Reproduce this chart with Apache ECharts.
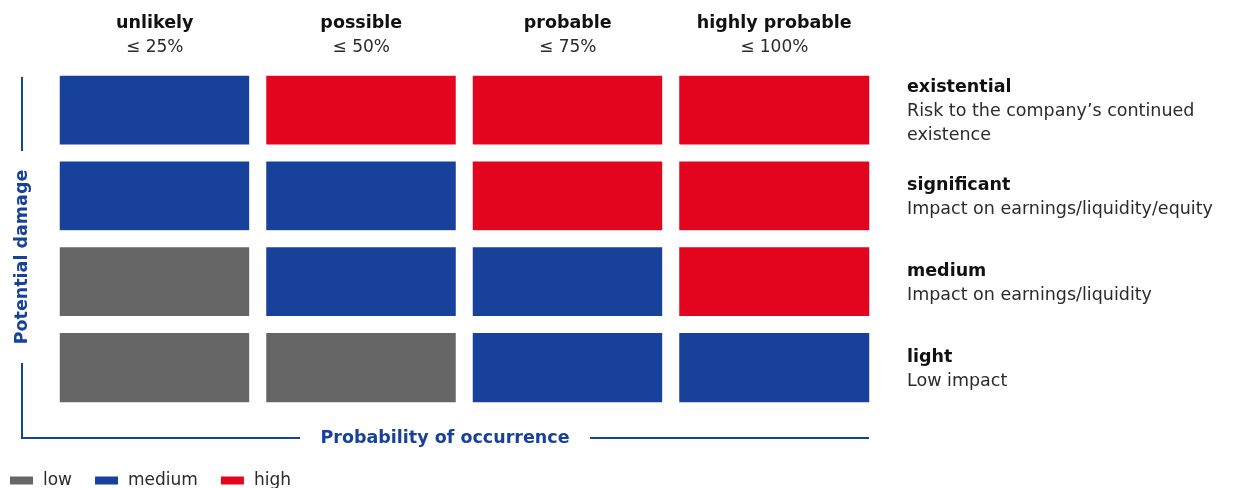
<!DOCTYPE html>
<html>
<head>
<meta charset="utf-8">
<script src="https://cdn.jsdelivr.net/npm/echarts@6/dist/echarts.min.js"></script>
<style>
html,body{margin:0;padding:0;background:#fff;}
#chart{width:1240px;height:488px;}
</style>
</head>
<body>
<div id="chart"></div>
<script>
const columns = ['unlikely', 'possible', 'probable', 'highly probable'];
const columnRanges = ['≤ 25%', '≤ 50%', '≤ 75%', '≤ 100%'];
const damageLevels = ['existential', 'significant', 'medium', 'light'];
const damageDescriptions = [
  'Risk to the company’s continued\nexistence',
  'Impact on earnings/liquidity/equity',
  'Impact on earnings/liquidity',
  'Low impact'
];
const riskLevels = ['low', 'medium', 'high'];
// risk level index per row (damage level), per column (probability)
const existentialRow = [1, 2, 2, 2];
const significantRow = [1, 1, 2, 2];
const mediumRow = [0, 1, 1, 2];
const lightRow = [0, 0, 1, 1];
const xAxisTitle = 'Probability of occurrence';
const yAxisTitle = 'Potential damage';

const rows = [existentialRow, significantRow, mediumRow, lightRow];
const data = [];
rows.forEach((row, yi) => row.forEach((v, xi) => data.push([xi, yi, v])));

const BLUE = '#17419a';
const RED = '#e2051d';
const GRAY = '#666666';
const FONT = '"DejaVu Sans", sans-serif';
const LIGHT = 'normal';
const TXT = '#2b2b2b';

const chart = echarts.init(document.getElementById('chart'));
chart.setOption({
  animation: false,
  textStyle: { fontFamily: FONT },
  grid: { left: 51.5, right: 1240 - 877.5, top: 67.5, bottom: 488 - 410.5 },
  xAxis: {
    type: 'category',
    position: 'top',
    data: columns,
    axisLine: { show: false },
    axisTick: { show: false },
    splitLine: { show: false },
    axisLabel: {
      margin: 8,
      interval: 0,
      formatter: (value, idx) => `{b|${value}}\n{p|${columnRanges[idx]}}`,
      rich: {
        b: { fontFamily: FONT, fontWeight: 'bold', fontSize: 17.5, lineHeight: 24, color: '#111' },
        p: { fontFamily: FONT, fontWeight: LIGHT, fontSize: 17, lineHeight: 24, color: TXT }
      }
    }
  },
  yAxis: {
    type: 'category',
    position: 'right',
    inverse: true,
    data: damageLevels,
    axisLine: { show: false },
    axisTick: { show: false },
    splitLine: { show: false },
    axisLabel: {
      margin: 29.5,
      align: 'left',
      interval: 0,
      padding: [3, 0, 0, 0],
      formatter: (value, idx) => {
        const desc = damageDescriptions[idx].split('\n').map(s => `{d|${s}}`).join('\n');
        return `{t|${value}}\n${desc}`;
      },
      rich: {
        t: { fontFamily: FONT, fontWeight: 'bold', fontSize: 17.5, lineHeight: 24, color: '#111' },
        d: { fontFamily: FONT, fontWeight: LIGHT, fontSize: 17.5, lineHeight: 24, color: TXT }
      }
    }
  },
  visualMap: {
    type: 'piecewise',
    orient: 'horizontal',
    left: 10,
    top: 472,
    padding: 0,
    itemWidth: 23,
    itemHeight: 8,
    itemGap: 23,
    itemSymbol: 'rect',
    textGap: 10,
    selectedMode: false,
    textStyle: { fontFamily: FONT, fontWeight: LIGHT, fontSize: 17, color: TXT },
    pieces: [
      { value: 0, label: riskLevels[0], color: GRAY },
      { value: 1, label: riskLevels[1], color: BLUE },
      { value: 2, label: riskLevels[2], color: RED }
    ],
    dimension: 2
  },
  series: [{
    type: 'heatmap',
    data: data,
    itemStyle: { borderColor: '#fff', borderWidth: 17 },
    emphasis: { disabled: true },
    label: { show: false }
  }],
  graphic: [
    { type: 'line', shape: { x1: 22, y1: 77, x2: 22, y2: 151 }, style: { stroke: BLUE, lineWidth: 2 } },
    { type: 'line', shape: { x1: 22, y1: 363, x2: 22, y2: 439 }, style: { stroke: BLUE, lineWidth: 2 } },
    { type: 'line', shape: { x1: 21, y1: 438, x2: 300, y2: 438 }, style: { stroke: BLUE, lineWidth: 2 } },
    { type: 'line', shape: { x1: 590, y1: 438, x2: 869, y2: 438 }, style: { stroke: BLUE, lineWidth: 2 } },
    {
      type: 'text', x: 445, y: 438,
      style: { text: xAxisTitle, fill: BLUE, font: 'bold 17.5px ' + FONT, textAlign: 'center', textVerticalAlign: 'middle' }
    },
    {
      type: 'text', x: 22, y: 257, rotation: Math.PI / 2,
      style: { text: yAxisTitle, fill: BLUE, font: 'bold 17.5px ' + FONT, textAlign: 'center', textVerticalAlign: 'middle' }
    }
  ]
});
</script>
</body>
</html>
